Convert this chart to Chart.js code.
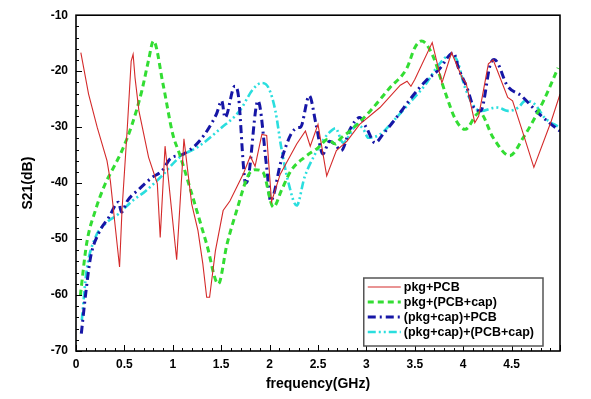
<!DOCTYPE html>
<html>
<head>
<meta charset="utf-8">
<script src="https://cdn.jsdelivr.net/npm/chart.js@4.4.1/dist/chart.umd.min.js"></script>
<style>
  html, body { margin:0; padding:0; background:#ffffff; }
  #wrap { width:591px; height:399px; }
</style>
</head>
<body>
<div id="wrap"><canvas id="c" width="591" height="399"></canvas></div>
<script>
// ---- data (frequency in GHz, S21 in dB) ----
const seriesLabels = ["pkg+PCB", "pkg+(PCB+cap)", "(pkg+cap)+PCB", "(pkg+cap)+(PCB+cap)"];

const pkgPcbFreq = [0.05,0.13,0.22,0.32,0.355,0.45,0.475,0.53,0.57,0.59,0.61,0.65,0.75,0.84,0.87,0.92,1.04,1.115,1.195,1.26,1.31,1.35,1.38,1.44,1.52,1.59,1.73,1.80,1.85,1.92,1.97,2.02,2.11,2.28,2.37,2.42,2.50,2.59,2.69,2.80,2.93,3.14,3.35,3.42,3.46,3.50,3.68,3.78,3.88,3.99,4.03,4.12,4.16,4.26,4.31,4.46,4.51,4.60,4.73,4.91,5.0];
const pkgPcbS21  = [-16.7,-24.1,-30.1,-36.0,-39.6,-55.0,-44.9,-30.1,-18.2,-17.0,-21.2,-27.1,-35.4,-40.1,-49.7,-33.4,-53.7,-32.1,-43.7,-48.5,-54.4,-60.4,-60.4,-52.1,-44.9,-43.2,-38.3,-35.2,-37.0,-31.3,-31.5,-43.3,-38.4,-33.0,-30.7,-33.4,-29.5,-38.7,-34.2,-32.5,-29.5,-26.5,-22.5,-21.8,-22.7,-21.5,-14.9,-22.1,-16.7,-21.2,-22.1,-29.2,-28.0,-18.7,-18.0,-24.7,-25.3,-30.1,-37.2,-28.9,-24.1];

const pkgPcbCapFreq = [0.045,0.11,0.20,0.30,0.37,0.475,0.58,0.68,0.75,0.80,0.90,1.00,1.07,1.18,1.35,1.47,1.56,1.66,1.78,1.85,1.93,2.04,2.12,2.22,2.36,2.50,2.60,2.68,2.74,2.83,3.04,3.24,3.42,3.50,3.57,3.68,3.82,3.92,4.02,4.14,4.17,4.31,4.48,4.62,4.83,4.98];
const pkgPcbCapS21  = [-60.1,-50.8,-44.9,-40.2,-37.8,-34.2,-29.5,-23.5,-18.0,-14.6,-22.4,-31.3,-34.8,-41.0,-50.9,-58.0,-50.9,-44.9,-38.6,-37.6,-38.0,-44.3,-41.4,-37.8,-35.4,-33.7,-32.2,-33.0,-31.9,-30.7,-27.1,-23.0,-19.4,-15.8,-14.6,-17.0,-24.1,-28.6,-30.4,-27.7,-27.4,-31.9,-35.1,-31.9,-25.3,-19.4];

const pkgCapPcbFreq = [0.055,0.10,0.15,0.23,0.34,0.44,0.47,0.53,0.65,0.785,0.89,0.97,1.11,1.28,1.45,1.505,1.54,1.64,1.68,1.73,1.75,1.78,1.88,1.97,2.01,2.12,2.22,2.29,2.32,2.41,2.48,2.55,2.62,2.67,2.74,2.83,2.93,3.00,3.09,3.17,3.31,3.48,3.61,3.75,3.90,3.95,4.04,4.11,4.18,4.28,4.32,4.46,4.60,4.77,4.91,5.0];
const pkgCapPcbS21  = [-66.9,-59.8,-53.3,-49.1,-46.1,-43.4,-45.2,-43.2,-41.1,-39.0,-37.8,-35.7,-34.8,-32.4,-27.7,-25.3,-28.3,-22.7,-24.7,-37.0,-40.0,-39.0,-25.3,-37.2,-43.2,-36.0,-31.3,-30.1,-30.0,-24.4,-29.5,-34.8,-32.5,-33.0,-34.2,-30.4,-28.3,-30.1,-32.8,-31.3,-28.3,-24.4,-21.8,-19.7,-16.7,-19.4,-23.0,-26.5,-27.1,-18.8,-17.9,-22.7,-24.4,-27.4,-29.5,-30.7];

const pkgCapPcbCapFreq = [0.06,0.11,0.20,0.30,0.44,0.58,0.72,0.87,1.07,1.28,1.49,1.69,1.83,1.92,1.99,2.06,2.12,2.19,2.28,2.36,2.47,2.57,2.64,2.68,2.76,2.83,2.90,2.97,3.02,3.14,3.31,3.48,3.61,3.75,3.85,3.92,4.02,4.12,4.19,4.30,4.36,4.46,4.57,4.64,4.74,4.84,5.0];
const pkgCapPcbCapS21  = [-64.5,-55.6,-49.7,-47.3,-45.5,-43.2,-41.4,-39.0,-35.4,-33.3,-30.3,-27.1,-23.2,-22.1,-23.0,-27.1,-33.6,-39.6,-44.0,-39.0,-34.8,-31.9,-30.6,-30.2,-32.8,-31.3,-29.5,-30.4,-31.9,-31.3,-28.3,-25.0,-22.4,-18.8,-17.3,-17.6,-23.0,-26.5,-27.1,-26.6,-26.5,-27.1,-26.5,-25.3,-25.9,-28.3,-30.1];

const xTickLabels = ["0","0.5","1","1.5","2","2.5","3","3.5","4","4.5"];
const yTickLabels = ["-70","-60","-50","-40","-30","-20","-10"];

// ---- helpers ----
function pts(f, s) { return f.map((v, i) => ({ x: v, y: s[i] })); }

const FONT = "'Liberation Sans', Arial, Helvetica, sans-serif";

const framePlugin = {
  id: 'frameTicks',
  afterDatasetsDraw(chart) {
    const { ctx, chartArea: a, scales: { x, y } } = chart;
    ctx.save();
    ctx.strokeStyle = '#000';
    ctx.lineWidth = 1;
    for (let i = 0; i <= 50; i++) {
      const v = i / 10;
      const px = Math.round(x.getPixelForValue(v)) + 0.5;
      const len = (i % 5 === 0) ? 6 : 3;
      ctx.beginPath(); ctx.moveTo(px, a.bottom); ctx.lineTo(px, a.bottom - len); ctx.stroke();
    }
    for (let v = -70; v <= -10; v += 2) {
      const py = Math.round(y.getPixelForValue(v)) + 0.5;
      const len = (v % 10 === 0) ? 6 : 3;
      ctx.beginPath(); ctx.moveTo(a.left, py); ctx.lineTo(a.left + len, py); ctx.stroke();
    }
    ctx.lineWidth = 1.6;
    ctx.strokeRect(a.left, a.top, a.right - a.left, a.bottom - a.top);
    ctx.restore();
  },
  afterDraw(chart) {
    const { ctx, chartArea: a } = chart;
    ctx.save();
    ctx.font = "bold 12.5px " + FONT;
    const labels = chart.data.datasets.map(d => d.label);
    const maxW = Math.max(...labels.map(t => ctx.measureText(t).width));
    const w = 40 + maxW + 9, h = 68;
    const left = a.right - 17 - w, top = a.bottom - 5 - h;
    ctx.fillStyle = '#fff';
    ctx.fillRect(left, top, w, h);
    ctx.strokeStyle = '#555';
    ctx.lineWidth = 1.5;
    ctx.strokeRect(left, top, w, h);
    chart.data.datasets.forEach((d, i) => {
      const yy = top + 9 + i * 15;
      ctx.save();
      ctx.strokeStyle = d.borderColor;
      ctx.lineWidth = d.borderWidth;
      ctx.setLineDash(d.borderDash || []);
      ctx.beginPath(); ctx.moveTo(left + 4, yy); ctx.lineTo(left + 37, yy); ctx.stroke();
      ctx.restore();
      ctx.fillStyle = '#000';
      ctx.textBaseline = 'middle';
      ctx.textAlign = 'left';
      ctx.fillText(d.label, left + 40, yy + 0.5);
    });
    ctx.restore();
  }
};

new Chart(document.getElementById('c'), {
  type: 'line',
  data: {
    datasets: [
      { label: seriesLabels[0], data: pts(pkgPcbFreq, pkgPcbS21), borderColor: '#d42a2a', borderWidth: 1.1, tension: 0, pointRadius: 0, fill: false },
      { label: seriesLabels[1], data: pts(pkgPcbCapFreq, pkgPcbCapS21), borderColor: '#33dd33', borderWidth: 3, borderDash: [6, 4], cubicInterpolationMode: 'monotone', pointRadius: 0, fill: false },
      { label: seriesLabels[2], data: pts(pkgCapPcbFreq, pkgCapPcbS21), borderColor: '#1616a6', borderWidth: 3, borderDash: [8, 4, 2, 4], cubicInterpolationMode: 'monotone', pointRadius: 0, fill: false },
      { label: seriesLabels[3], data: pts(pkgCapPcbCapFreq, pkgCapPcbCapS21), borderColor: '#2adede', borderWidth: 2.6, borderDash: [8, 3, 2, 3, 2, 3], cubicInterpolationMode: 'monotone', pointRadius: 0, fill: false }
    ]
  },
  options: {
    responsive: false,
    animation: false,
    layout: { padding: { top: 14, right: 31, left: 0, bottom: 0 } },
    plugins: { legend: { display: false }, tooltip: { enabled: false } },
    scales: {
      x: {
        type: 'linear', min: 0, max: 5,
        grid: { display: false, drawTicks: false },
        border: { display: false },
        afterFit(s) { s.height = 48; },
        afterBuildTicks(s) { s.ticks = xTickLabels.map(t => ({ value: parseFloat(t) })); },
        ticks: {
          padding: 6, color: '#000', maxRotation: 0, autoSkip: false,
          font: { family: FONT, size: 12, weight: 'bold' },
          callback: (v, i) => xTickLabels[i]
        },
        title: { display: true, text: 'frequency(GHz)', color: '#000', padding: { bottom: 6 },
                 font: { family: FONT, size: 14, weight: 'bold' } }
      },
      y: {
        min: -70, max: -10,
        grid: { display: false, drawTicks: false },
        border: { display: false },
        afterFit(s) { s.width = 76; },
        afterBuildTicks(s) { s.ticks = yTickLabels.map(t => ({ value: parseFloat(t) })); },
        ticks: {
          padding: 8, color: '#000', autoSkip: false,
          font: { family: FONT, size: 12, weight: 'bold' },
          callback: (v, i) => yTickLabels[i]
        },
        title: { display: true, text: 'S21(dB)', color: '#000', padding: { top: 20 },
                 font: { family: FONT, size: 14, weight: 'bold' } }
      }
    }
  },
  plugins: [framePlugin]
});
</script>
</body>
</html>
